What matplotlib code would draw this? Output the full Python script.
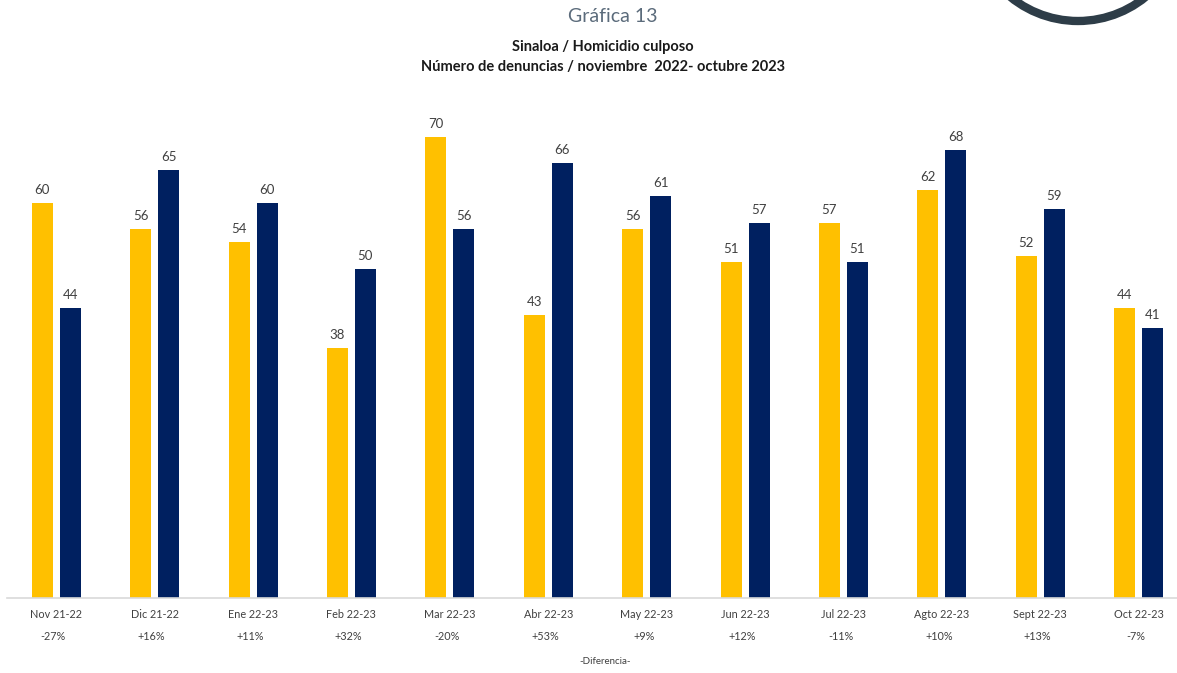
import matplotlib
import matplotlib.pyplot as plt
import numpy as np
from matplotlib.patches import Ellipse

matplotlib.use("Agg")

plt.rcParams["font.family"] = ["Lato", "DejaVu Sans"]

categories = ["Nov 21-22", "Dic 21-22", "Ene 22-23", "Feb 22-23", "Mar 22-23", "Abr 22-23",
              "May 22-23", "Jun 22-23", "Jul 22-23", "Agto 22-23", "Sept 22-23", "Oct 22-23"]
previous_year = [60, 56, 54, 38, 70, 43, 56, 51, 57, 62, 52, 44]
current_year = [44, 65, 60, 50, 56, 66, 61, 57, 51, 68, 59, 41]
differences = ["-27%", "+16%", "+11%", "+32%", "-20%", "+53%",
               "+9%", "+12%", "-11%", "+10%", "+13%", "-7%"]

YELLOW = "#FFC000"
NAVY = "#002060"
TEXT = "#404040"

W, H = 1177, 673
fig = plt.figure(figsize=(W / 100, H / 100), dpi=100)

# axes: baseline at y=598 px, left edge at x=7 px
left_px, base_px, top_px = 7, 598, 100
ax = fig.add_axes([left_px / W, 1 - base_px / H, (W - left_px) / W, (base_px - top_px) / H])
step_px = 98.4
n = len(categories)
ax.set_xlim(-0.5, -0.5 + (W - left_px) / step_px)
ax.set_ylim(0, (base_px - top_px) / 6.586)

x = np.arange(n)
bw = 21 / step_px
off = 14 / step_px
b1 = ax.bar(x - off, previous_year, width=bw, color=YELLOW)
b2 = ax.bar(x + off, current_year, width=bw, color=NAVY)

for bars, vals in ((b1, previous_year), (b2, current_year)):
    for rect, v in zip(bars, vals):
        ax.annotate(str(v), (rect.get_x() + rect.get_width() / 2, v),
                    xytext=(0, 5), textcoords="offset points",
                    ha="center", va="bottom", fontsize=9.5, color=TEXT)

for side in ("top", "right", "left"):
    ax.spines[side].set_visible(False)
ax.spines["bottom"].set_color("#d9d9d9")
ax.spines["bottom"].set_linewidth(1.2)
ax.set_yticks([])
ax.set_xticks(x)
ax.set_xticklabels(categories, fontsize=7.8, color=TEXT)
ax.tick_params(axis="x", length=0, pad=8)

for xi, d in zip(x, differences):
    ax.text(xi - 0.03, -0.078, d, transform=ax.get_xaxis_transform(),
            ha="center", va="center", fontsize=7.8, color=TEXT)

fig.text(605 / W, 1 - 662 / H, "-Diferencia-", ha="center", va="center",
         fontsize=7, color=TEXT)

fig.text(613 / W, 1 - 16 / H, "Gráfica 13", ha="center", va="center",
         fontsize=14, color="#5b6b7b")
fig.text(603 / W, 1 - 47 / H, "Sinaloa / Homicidio culposo", ha="center",
         va="center", fontsize=10.5, fontweight="bold", color="#1a1a1a")
fig.text(603 / W, 1 - 67 / H, "Número de denuncias / noviembre  2022- octubre 2023",
         ha="center", va="center", fontsize=10.5, fontweight="bold", color="#1a1a1a")

# logo arc at the top right corner
r = 107
fig.patches.append(Ellipse((1078 / W, 1 + 86 / H), 2 * r / W, 2 * r / H,
                           transform=fig.transFigure, fill=False,
                           edgecolor="#2e3d48", linewidth=6))

fig.savefig("out.png", dpi=100)
